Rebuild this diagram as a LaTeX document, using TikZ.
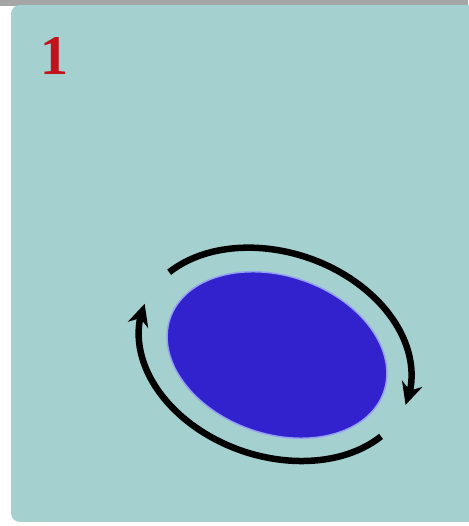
\documentclass[tikz,border=0pt]{standalone}
\usepackage{fontspec}
\setmainfont{Liberation Serif}
\usepackage{xcolor}
\usepackage{tikz}
\usetikzlibrary{shapes.geometric, arrows.meta, bending}

\definecolor{cardbg}{RGB}{164,208,207}
\definecolor{blobfill}{RGB}{50,34,205}
\definecolor{blobrim}{RGB}{150,160,245}
\definecolor{numred}{RGB}{196,18,28}
\definecolor{stripgray}{RGB}{165,165,165}

\begin{document}
\begin{tikzpicture}[
    x=1pt, y=1pt,
    card/.style = {fill=cardbg, rounded corners=9pt},
    blob/.style = {ellipse, draw=blobrim, line width=1.5pt, fill=blobfill, minimum width=226pt, minimum height=158pt, inner sep=0pt, rotate=-19},
    turn/.style = {line width=6.5pt, -{Stealth[length=22pt, width=21pt, inset=7pt]}},
    tag/.style = {text=numred, font=\bfseries\fontsize{56}{56}\selectfont}
]
    \useasboundingbox (0,0) rectangle (468,526);
    % Background
    \fill[white] (0,0) rectangle (468,526);
    \fill[stripgray] (0,520) rectangle (468,526);
    \fill[card] (11,4) rectangle (478,521);

    % Nodes
    \node (num) [tag] at (54,470) {1};
    \node (cell) [blob] at (277,171) {};

    % Arrows
    \begin{scope}[shift={(cell.center)}, rotate=-19, shift={(-2,0)}]
        \draw [turn] (155:140 and 102) arc[start angle=155, end angle=-3, x radius=140, y radius=102];
        \draw [turn] (-25:140 and 102) arc[start angle=-25, end angle=-183, x radius=140, y radius=102];
    \end{scope}

\end{tikzpicture}
\end{document}
